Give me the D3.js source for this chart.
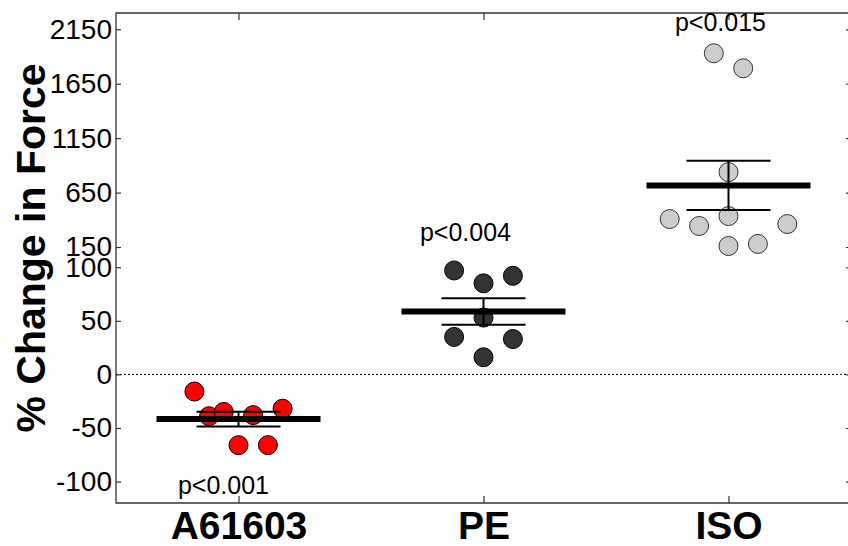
<!DOCTYPE html>
<html>
<head>
<meta charset="utf-8">
<script src="https://cdn.jsdelivr.net/npm/d3@7"></script>
<style>
  body { margin: 0; background: #fff; }
  svg { display: block; }
  text { font-family: "Liberation Sans", Arial, Helvetica, sans-serif; }
</style>
</head>
<body>
<svg id="chart" width="848" height="546"></svg>
<script>
// Groups and the individual responses (% change in force)
const categories = ["A61603", "PE", "ISO"];
const a61603Values = [-16, -39, -35, -38, -32, -66, -66];
const peValues = [97, 85, 92, 53, 35, 33, 16];
const isoValues = [1930, 1792, 838, 407, 343, 434, 361, 159, 178];

// Horizontal slot of each point inside its group (scatter spread)
const a61603Slots = [-3, -2, -1, 1, 3, 0, 2];
const peSlots = [-2, 0, 2, 0, -2, 2, 0];
const isoSlots = [-1, 1, 0, -4, -2, 0, 4, 0, 2];

const pLabels = ["p<0.001", "p<0.004", "p<0.015"];

// Tick values for the two stacked segments of the broken y axis
const lowerTicks = [-100, -50, 0, 50, 100];
const upperTicks = [150, 650, 1150, 1650, 2150];

const groups = [
  { name: categories[0], values: a61603Values, slots: a61603Slots, fill: "#ff0000", stroke: "#000000", label: pLabels[0] },
  { name: categories[1], values: peValues, slots: peSlots, fill: "#333333", stroke: "#000000", label: pLabels[1] },
  { name: categories[2], values: isoValues, slots: isoSlots, fill: "#cccccc", stroke: "#333333", label: pLabels[2] }
];

const svg = d3.select("#chart");
const plotLeft = 116, plotRight = 851, plotTop = 13, plotBottom = 503;
const axisColor = "#333";
const plainNumber = d => String(d);

const x = d3.scalePoint().domain(categories).range([plotLeft, plotRight]).padding(0.5);

// Broken axis: linear lower segment and compressed upper segment
const yLow = d3.scaleLinear().domain([-120, 120]).range([plotBottom, 245.8]);
const yHigh = d3.scaleLinear().domain([150, 2300]).range([247, plotTop]);
const breakValue = 125;
const y = v => (v <= breakValue ? yLow(v) : yHigh(v));

// Zero reference line
svg.append("line")
  .attr("x1", plotLeft).attr("x2", plotRight)
  .attr("y1", yLow(0)).attr("y2", yLow(0))
  .attr("stroke", "#000").attr("stroke-width", 1)
  .attr("stroke-dasharray", "2,2");

// Left axis: two tick sets, ticks pointing inward
function styleAxis(g) {
  g.select(".domain").remove();
  g.selectAll(".tick line").attr("stroke", axisColor).attr("stroke-width", 1.2);
  g.selectAll(".tick text").attr("fill", "#000").style("font-size", "28px");
}
svg.append("g").attr("transform", `translate(${plotLeft},0)`)
  .call(d3.axisLeft(yLow).tickValues(lowerTicks).tickFormat(plainNumber).tickSize(-5).tickPadding(4))
  .call(styleAxis);
svg.append("g").attr("transform", `translate(${plotLeft},0)`)
  .call(d3.axisLeft(yHigh).tickValues(upperTicks).tickFormat(plainNumber).tickSize(-5).tickPadding(4))
  .call(styleAxis);

// Right axis ticks (mirror)
svg.append("g").attr("transform", `translate(${plotRight},0)`)
  .call(d3.axisRight(yLow).tickValues(lowerTicks).tickSize(-5).tickFormat(""))
  .call(styleAxis);
svg.append("g").attr("transform", `translate(${plotRight},0)`)
  .call(d3.axisRight(yHigh).tickValues(upperTicks).tickSize(-5).tickFormat(""))
  .call(styleAxis);

// Top and bottom category ticks
svg.append("g").attr("transform", `translate(0,${plotTop})`)
  .call(d3.axisTop(x).tickSize(-7).tickFormat(""))
  .call(g => { g.select(".domain").remove(); g.selectAll(".tick line").attr("stroke", axisColor).attr("stroke-width", 1.2); });

const xAxis = svg.append("g").attr("transform", `translate(0,${plotBottom})`)
  .call(d3.axisBottom(x).tickSize(-7).tickPadding(8));
xAxis.select(".domain").remove();
xAxis.selectAll(".tick line").attr("stroke", axisColor).attr("stroke-width", 1.2);
xAxis.selectAll(".tick text")
  .attr("fill", "#000")
  .style("font-size", "39px")
  .style("font-weight", "bold");

// Frame lines
svg.append("path")
  .attr("d", `M${plotRight},${plotTop}H${plotLeft}V${plotBottom}H${plotRight}`)
  .attr("fill", "none").attr("stroke", axisColor).attr("stroke-width", 1.3);

// Y axis title
svg.append("text")
  .attr("transform", `translate(45,248) rotate(-90)`)
  .attr("text-anchor", "middle")
  .style("font-size", "41px")
  .style("font-weight", "bold")
  .text("% Change in Force");

const slotWidth = 14.7;
const meanHalf = 82, capHalf = 42;

// Placement of the significance labels relative to each group centre
const labelPlacement = [
  { dx: -15, y: yLow(-112) },
  { dx: -18, y: yHigh(205) },
  { dx: -8, y: yHigh(2134) }
];

groups.forEach((grp, i) => {
  const cx = x(grp.name);
  const g = svg.append("g");
  const mean = d3.mean(grp.values);
  const sem = d3.deviation(grp.values) / Math.sqrt(grp.values.length);

  g.selectAll("circle")
    .data(grp.values)
    .join("circle")
    .attr("cx", (d, j) => cx + grp.slots[j] * slotWidth)
    .attr("cy", d => y(d))
    .attr("r", 9.5)
    .attr("fill", grp.fill)
    .attr("stroke", grp.stroke)
    .attr("stroke-width", 1);

  // Mean bar
  g.append("line")
    .attr("x1", cx - meanHalf).attr("x2", cx + meanHalf)
    .attr("y1", y(mean)).attr("y2", y(mean))
    .attr("stroke", "#000").attr("stroke-width", 6);

  // SEM whisker and caps
  g.append("line")
    .attr("x1", cx).attr("x2", cx)
    .attr("y1", y(mean + sem)).attr("y2", y(mean - sem))
    .attr("stroke", "#000").attr("stroke-width", 2);
  [mean + sem, mean - sem].forEach(v => {
    g.append("line")
      .attr("x1", cx - capHalf).attr("x2", cx + capHalf)
      .attr("y1", y(v)).attr("y2", y(v))
      .attr("stroke", "#000").attr("stroke-width", 2);
  });

  svg.append("text")
    .attr("x", cx + labelPlacement[i].dx)
    .attr("y", labelPlacement[i].y)
    .attr("text-anchor", "middle")
    .style("font-size", "25px")
    .attr("fill", "#000")
    .text(grp.label);
});
</script>
</body>
</html>
